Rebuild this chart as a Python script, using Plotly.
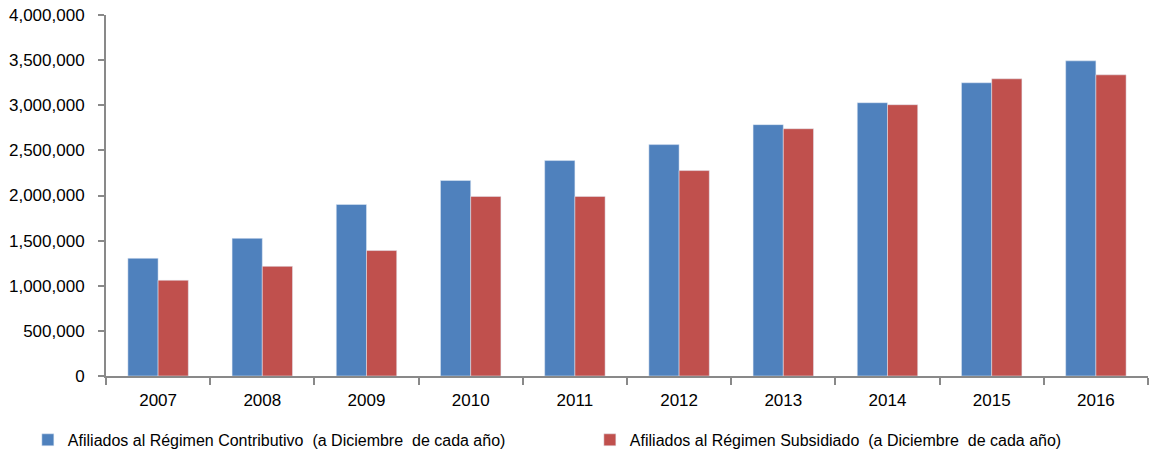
import plotly.graph_objects as go

years = ["2007", "2008", "2009", "2010", "2011", "2012", "2013", "2014", "2015", "2016"]
contributivo = [1304000, 1525000, 1900000, 2166000, 2387000, 2564000, 2785000, 3028000, 3249000, 3492000]
subsidiado = [1061000, 1215000, 1390000, 1990000, 1990000, 2276000, 2740000, 3006000, 3293000, 3337000]
name_c = "Afiliados al Régimen Contributivo  (a Diciembre  de cada año)"
name_s = "Afiliados al Régimen Subsidiado  (a Diciembre  de cada año)"

FONT = "Liberation Sans"
AXIS = "#898989"

fig = go.Figure()
fig.add_trace(go.Bar(x=years, y=contributivo, name=name_c, marker_color="#4F81BD"))
fig.add_trace(go.Bar(x=years, y=subsidiado, name=name_s, marker_color="#C0504D"))

fig.update_layout(
    width=1152, height=454,
    margin=dict(l=106, r=4, t=15, b=78, autoexpand=False),
    paper_bgcolor="white", plot_bgcolor="white",
    barmode="group", bargap=0.42, bargroupgap=0,
    font=dict(family=FONT, size=17, color="black"),
    showlegend=True,
    legend=dict(orientation="h", x=-0.075, xanchor="left", y=-0.177, yanchor="middle",
                font=dict(size=16), entrywidth=517, entrywidthmode="pixels",
                itemclick=False, tracegroupgap=0),
)
fig.update_xaxes(type="category", showline=True, linecolor=AXIS, linewidth=2,
                 ticks="outside", tickson="boundaries", ticklen=7, tickcolor=AXIS, tickwidth=2,
                 showgrid=False, ticklabelstandoff=8)
fig.update_yaxes(range=[0, 4000000], dtick=500000, tickformat=",d", showline=True,
                 linecolor=AXIS, linewidth=2, ticks="outside", ticklen=6, tickcolor=AXIS,
                 tickwidth=2, showgrid=False, zeroline=False, ticklabelstandoff=10)

fig.write_html("out.html")
